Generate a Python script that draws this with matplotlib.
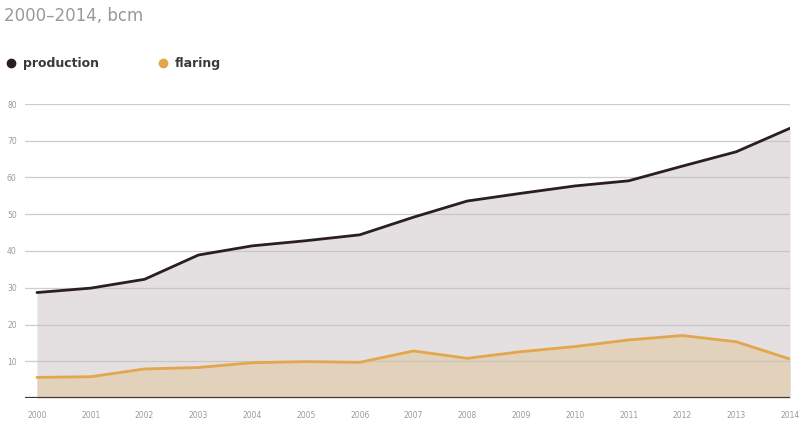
import matplotlib
matplotlib.use("Agg")
import matplotlib.pyplot as plt
from matplotlib.lines import Line2D

years = list(range(2000, 2015))
production = [28.7, 29.9, 32.3, 38.9, 41.4, 42.8, 44.4, 49.2, 53.6, 55.7, 57.7, 59.1, 63.1, 67.0, 73.4]
flaring = [5.6, 5.8, 7.9, 8.3, 9.6, 9.9, 9.7, 12.8, 10.8, 12.6, 14.0, 15.8, 17.0, 15.3, 10.6]
yticks = [10, 20, 30, 40, 50, 60, 70, 80]
title = "2000\u20132014, bcm"
labels = ["production", "flaring"]

W, H = 804, 426
fig = plt.figure(figsize=(W / 100, H / 100), dpi=100)
ax = fig.add_axes([25 / W, (H - 398) / H, (790 - 25) / W, (398 - 104) / H])

prod_line = "#2a1e23"
prod_fill = "#e4dfe0"
flare_line = "#e3a64b"
flare_fill = "#e2d2bb"

ax.fill_between(years, 0, production, color=prod_fill, zorder=1, lw=0)
ax.fill_between(years, 0, flaring, color=flare_fill, zorder=2, lw=0)
for y in yticks:
    ax.axhline(y, color="#c4c0c0", lw=0.9, alpha=0.8, zorder=3)
ax.plot(years, production, color=prod_line, lw=2.0, zorder=4, solid_capstyle="round")
ax.plot(years, flaring, color=flare_line, lw=2.0, zorder=4, solid_capstyle="round")
ax.axhline(0, color="#3a3a3a", lw=1.6, zorder=5)

ax.set_xlim(2000 - 12 / 53.8, 2014)
ax.set_ylim(0, 80)
ax.set_yticks(yticks)
ax.set_yticklabels([str(v) for v in yticks], fontsize=5.5, color="#9a9a9a")
ax.set_xticks(years)
ax.set_xticklabels([str(v) for v in years], fontsize=5.5, color="#9a9a9a")
ax.tick_params(axis="both", length=0)
ax.tick_params(axis="y", pad=6)
ax.tick_params(axis="x", pad=9)
for s in ax.spines.values():
    s.set_visible(False)

fig.text(4 / W, 1 - 16 / H, title, fontsize=12, color="#999999", va="center", ha="left")
fig.lines.append(Line2D([11 / W], [1 - 63 / H], marker="o", markersize=6, color=prod_line, transform=fig.transFigure))
fig.text(23 / W, 1 - 63 / H, labels[0], fontsize=9, fontweight="bold", color="#3a3a3a", va="center", ha="left")
fig.lines.append(Line2D([163 / W], [1 - 63 / H], marker="o", markersize=6, color=flare_line, transform=fig.transFigure))
fig.text(175 / W, 1 - 63 / H, labels[1], fontsize=9, fontweight="bold", color="#3a3a3a", va="center", ha="left")

fig.savefig("out.png", dpi=100)
